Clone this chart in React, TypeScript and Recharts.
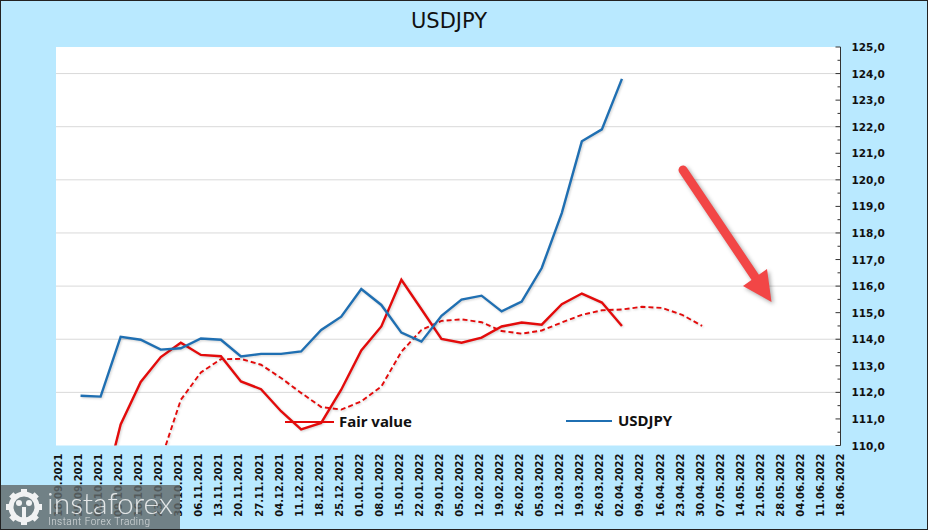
import { LineChart, Line, XAxis, YAxis, CartesianGrid, Legend } from 'recharts';

const dates = [
  '18.09.2021', '25.09.2021', '02.10.2021', '09.10.2021', '16.10.2021', '23.10.2021', '30.10.2021',
  '06.11.2021', '13.11.2021', '20.11.2021', '27.11.2021', '04.12.2021', '11.12.2021', '18.12.2021',
  '25.12.2021', '01.01.2022', '08.01.2022', '15.01.2022', '22.01.2022', '29.01.2022', '05.02.2022',
  '12.02.2022', '19.02.2022', '26.02.2022', '05.03.2022', '12.03.2022', '19.03.2022', '26.03.2022',
  '02.04.2022', '09.04.2022', '16.04.2022', '23.04.2022', '30.04.2022', '07.05.2022', '14.05.2022',
  '21.05.2022', '28.05.2022', '04.06.2022', '11.06.2022', '18.06.2022',
];

const usdjpy = [
  null, 111.87, 111.84, 114.09, 113.98, 113.61, 113.66, 114.03, 113.98, 113.35, 113.45, 113.45, 113.54,
  114.35, 114.85, 115.89, 115.29, 114.25, 113.91, 114.88, 115.49, 115.64, 115.05, 115.42, 116.68, 118.75,
  121.45, 121.9, 123.8,
];

const fairValue = [
  null, null, 107.8, 110.79, 112.39, 113.33, 113.87, 113.41, 113.36, 112.41, 112.12, 111.29, 110.61, 110.85,
  112.1, 113.58, 114.48, 116.24, 115.13, 114.01, 113.87, 114.06, 114.48, 114.63, 114.55, 115.32, 115.72,
  115.38, 114.5,
];

const fairValueForecast = [
  null, null, null, null, null, 109.44, 111.72, 112.75, 113.25, 113.26, 113.04, 112.54, 111.98, 111.45, 111.35,
  111.66, 112.22, 113.53, 114.35, 114.69, 114.75, 114.64, 114.31, 114.21, 114.33, 114.63, 114.92, 115.09,
  115.12, 115.22, 115.18, 114.92, 114.5,
];

const yTicks = [
  110, 110.5, 111, 111.5, 112, 112.5, 113, 113.5, 114, 114.5, 115, 115.5, 116, 116.5, 117, 117.5, 118, 118.5,
  119, 119.5, 120, 120.5, 121, 121.5, 122, 122.5, 123, 123.5, 124, 124.5, 125,
];
const gridValues = [112, 114, 116, 118, 120, 122, 124];

const data = dates.map((date, i) => ({
  date,
  usdjpy: usdjpy[i] ?? null,
  fair: fairValue[i] ?? null,
  forecast: fairValueForecast[i] ?? null,
}));

const BG = '#B9E9FF';
const RED = '#E30B0B';
const BLUE = '#1F6FB2';
const LABEL = 'DejaVu Sans, Verdana, sans-serif';

const DateTick = ({ x, y, payload }: any) => (
  <text
    transform={`translate(${x + 1.5},${y + 8}) rotate(-90)`}
    textAnchor="end"
    fontFamily={LABEL}
    fontWeight="bold"
    fontSize={10}
    fill="#111"
  >
    {payload.value}
  </text>
);

const PriceTick = ({ x, y, payload }: any) => {
  const major = Number.isInteger(payload.value);
  return (
    <g>
      <line x1={x - (major ? 5 : 3)} x2={x} y1={y} y2={y} stroke="#333" />
      {major && (
        <text x={x + 11} y={y + 4} fontFamily={LABEL} fontWeight="bold" fontSize={10.5} fill="#111">
          {payload.value.toFixed(1).replace('.', ',')}
        </text>
      )}
    </g>
  );
};

const legendText = { fontFamily: 'Noto Sans, sans-serif', fontWeight: 'bold', fontSize: 15, lineHeight: '20px', color: '#111' } as const;

// Legend sits inside the plot, as in the original sheet
const ChartLegend = () => (
  <div style={{ position: 'relative', width: 400, height: 24 }}>
    <div style={{ position: 'absolute', left: 0, top: 10, width: 49, height: 2, background: RED }} />
    <span style={{ ...legendText, position: 'absolute', left: 54, top: 0 }}>Fair value</span>
    <div style={{ position: 'absolute', left: 281, top: 9, width: 46, height: 2, background: BLUE }} />
    <span style={{ ...legendText, position: 'absolute', left: 333, top: -1 }}>USDJPY</span>
  </div>
);

const gearTeeth = [0, 45, 90, 135, 180, 225, 270, 315];

const Watermark = () => (
  <svg width={180} height={45} style={{ position: 'absolute', left: 0, top: 485 }}>
    <rect width={180} height={45} fill="#626a6b" opacity={0.82} />
    <g transform="translate(24,22)" fill="#fff" stroke="none" opacity={0.9}>
      <circle r={13} fill="none" stroke="#fff" strokeWidth={5} />
      {gearTeeth.map((a) => (
        <rect key={a} x={-3} y={-18} width={6} height={6} transform={`rotate(${a})`} />
      ))}
      <circle cx={-5} cy={-4} r={3} />
      <circle cx={5} cy={-4} r={3} />
      <rect x={-2} y={0} width={4} height={13} />
    </g>
    <text x={47} y={29} fontFamily="Lato, Roboto, sans-serif" fontWeight={300} fontSize={30} fill="#fff" opacity={0.8} textLength={126}>
      instaforex
    </text>
    <text x={48} y={40} fontFamily="Roboto, sans-serif" fontWeight={300} fontSize={10} fill="#fff" opacity={0.7} textLength={102}>
      Instant Forex Trading
    </text>
  </svg>
);

const Arrow = () => (
  <svg width={928} height={530} style={{ position: 'absolute', left: 0, top: 0, pointerEvents: 'none' }}>
    <g style={{ filter: 'drop-shadow(2px 2px 2px rgba(0,0,0,0.35))' }}>
      <line x1={683} y1={170} x2={757} y2={280} stroke="#F24646" strokeWidth={9} strokeLinecap="round" />
      <polygon points="743,286 767,269 771.5,302" fill="#F24646" />
    </g>
  </svg>
);

export default function App() {
  return (
    <div style={{ position: 'fixed', left: 0, top: 0, width: 928, height: 530, background: BG, overflow: 'hidden' }}>
      <style>{'.recharts-line-curve{filter:drop-shadow(1px 1px 1px rgba(0,0,0,0.18))}'}</style>
      <LineChart
        width={928}
        height={530}
        data={data}
        margin={{ top: 47, right: 0, bottom: 0, left: 56 }}
      >
        <CartesianGrid vertical={false} horizontalValues={gridValues} stroke="#D9D9D9" fill="#fff" fillOpacity={1} />
        <XAxis
          dataKey="date"
          height={84.5}
          interval={0}
          axisLine={false}
          tickLine={false}
          tickSize={0}
          tickMargin={0}
          padding={{ left: 4.5, right: -2 }}
          tick={<DateTick />}
        />
        <YAxis
          orientation="right"
          width={87.5}
          domain={[110, 125]}
          ticks={yTicks}
          interval={0}
          allowDataOverflow
          tickLine={false}
          tickSize={0}
          tickMargin={0}
          axisLine={{ stroke: '#333' }}
          tick={<PriceTick />}
        />
        <Line dataKey="forecast" stroke={RED} strokeWidth={1.9} strokeDasharray="5 3" dot={false} isAnimationActive={false} />
        <Line dataKey="fair" name="Fair value" stroke={RED} strokeWidth={2.4} dot={false} isAnimationActive={false} />
        <Line dataKey="usdjpy" name="USDJPY" stroke={BLUE} strokeWidth={2.4} dot={false} isAnimationActive={false} />
        <Legend
          layout="vertical"
          align="center"
          verticalAlign="middle"
          content={<ChartLegend />}
          wrapperStyle={{ left: 285, top: 411, width: 400 }}
        />
      </LineChart>
      <div
        style={{
          position: 'absolute',
          left: 0,
          top: 9,
          width: 898,
          textAlign: 'center',
          fontFamily: LABEL,
          fontSize: 21,
          color: '#111',
        }}
      >
        USDJPY
      </div>
      <Arrow />
      <Watermark />
      <div style={{ position: 'absolute', inset: 0, border: '1px solid #222', boxSizing: 'border-box' }} />
    </div>
  );
}
